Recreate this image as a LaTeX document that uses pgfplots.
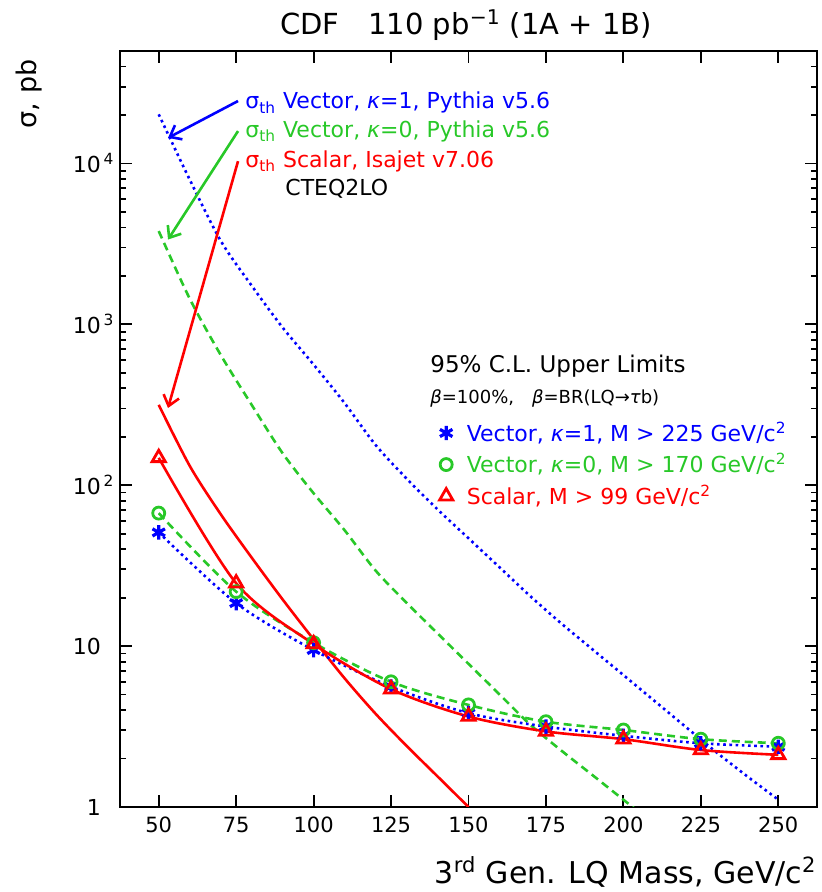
\documentclass[border=0pt]{standalone}
\usepackage{fontspec}
\setmainfont{DejaVu Sans}
\usepackage{pgfplots}
\usepackage{pgfplotstable}
\pgfplotsset{compat=1.18}
\usetikzlibrary{arrows.meta}

\definecolor{cdfblue}{RGB}{0,0,255}
\definecolor{cdfgreen}{RGB}{40,200,40}
\definecolor{cdfred}{RGB}{255,0,0}

% 95% C.L. upper limits on sigma x BR (pb)
\pgfplotstableread{
m    vecone  veczero  scalar
50   50.9    67.1     148
75   18.5    21.8     24.6
100  9.45    10.5     10.3
125  5.6     6.0      5.4
150  3.83    4.31     3.65
175  3.16    3.39     2.95
200  2.77    3.01     2.64
225  2.49    2.64     2.26
250  2.37    2.49     2.11
}\limits

% theoretical cross sections (CTEQ2LO)
\pgfplotstableread{
m    xs
50   20200
60   7940
70   3310
80   1740
90   955
100  562
110  324
120  178
130  110
140  70.8
150  46.8
160  30.9
170  20.4
180  13.8
190  9.55
200  6.61
210  4.57
220  3.16
230  2.19
240  1.55
250  1.11
}\thvecone

\pgfplotstableread{
m    xs
50   3800
60   1445
70   646
80   316
90   158
100  89.1
110  52.5
120  29.5
130  18.6
140  12.0
150  7.76
160  5.01
170  3.24
180  2.24
190  1.58
200  1.11
210  0.78
}\thveczero

\pgfplotstableread{
m    xs
50   316
60   132
70   66.1
80   35.5
90   19.5
100  11.0
110  6.31
120  3.80
130  2.40
140  1.55
150  1.00
}\thscalar

\begin{document}
\begin{tikzpicture}
\path[use as bounding box] (-60pt,-42.5pt) rectangle (351pt,403.5pt);
\begin{axis}[
  at={(0,0)}, anchor=south west,
  scale only axis, width=348.5pt, height=378pt,
  xmin=37.5, xmax=262.5, ymin=1, ymax=50000, ymode=log,
  axis line style={line width=1pt},
  every tick/.append style={black, line width=0.9pt},
  tick align=inside,
  major tick length=6pt, minor tick length=3pt,
  xtick={50,75,...,250}, minor xtick={},
  ytick={1,10,100,1000,10000},
  minor ytick={2,3,...,9,20,30,...,90,200,300,...,900,2000,3000,...,9000,20000,30000,40000},
  yticklabels={1,10,10\rlap{\textsuperscript{\,2}},10\rlap{\textsuperscript{\,3}},10\rlap{\textsuperscript{\,4}}},
  /pgf/number format/assume math mode=true,
  xticklabel style={font=\fontsize{10.5}{12}\selectfont, yshift=-1.5pt},
  yticklabel style={font=\fontsize{11}{13}\selectfont, xshift=-6pt},
  legend cell align=left,
  legend image code/.code={\draw[#1] plot coordinates {(0pt,0pt)};},
  legend style={at={(axis description cs:0.458,0.514)}, anchor=north west,
    draw=none, fill=none, inner sep=0pt, row sep=1.6pt,
    font=\fontsize{11}{13}\selectfont,
    nodes={inner sep=1.5pt},
    /tikz/every odd column/.append style={column sep=5.5pt}},
]
% theory curves
\addplot[forget plot, cdfblue, line width=1.3pt, dash pattern=on 1.3pt off 1.8pt, smooth] table[x=m, y=xs] {\thvecone};
\addplot[forget plot, cdfgreen, line width=1.3pt, dash pattern=on 4pt off 2.5pt, smooth] table[x=m, y=xs] {\thveczero};
\addplot[forget plot, cdfred, line width=1.3pt, smooth] table[x=m, y=xs] {\thscalar};
% limit curves
\addplot[forget plot, cdfblue, line width=1.3pt, dash pattern=on 1.3pt off 1.8pt, smooth] table[x=m, y=vecone] {\limits};
\addplot[forget plot, cdfgreen, line width=1.3pt, dash pattern=on 4pt off 2.5pt, smooth] table[x=m, y=veczero] {\limits};
\addplot[forget plot, cdfred, line width=1.3pt, smooth] table[x=m, y=scalar] {\limits};
% limit points
\addplot[only marks, cdfblue, mark=asterisk, mark size=3.6pt, line width=1.6pt] table[x=m, y=vecone] {\limits};
\addlegendentry{\textcolor{cdfblue}{Vector, \textit{κ}=1, M > 225 GeV/c\textsuperscript{2}}}
\addplot[only marks, cdfgreen, mark=o, mark size=3pt, line width=1.4pt] table[x=m, y=veczero] {\limits};
\addlegendentry{\textcolor{cdfgreen}{Vector, \textit{κ}=0, M > 170 GeV/c\textsuperscript{2}}}
\addplot[only marks, cdfred, mark=triangle, mark size=3.8pt, line width=1.4pt] table[x=m, y=scalar] {\limits};
\addlegendentry{\textcolor{cdfred}{Scalar, M > 99 GeV/c\textsuperscript{2}}}
% pointers from the labels to the theory curves
\draw[cdfblue, line width=1.3pt, -{Straight Barb[length=5pt,width=8pt]}] (axis cs:75.6,24430) -- (axis cs:53,14420);
\draw[cdfgreen, line width=1.3pt, -{Straight Barb[length=5pt,width=8pt]}] (axis cs:75.6,15890) -- (axis cs:53,3365);
\draw[cdfred, line width=1.3pt, -{Straight Barb[length=5pt,width=8pt]}] (axis cs:75.6,10330) -- (axis cs:53,302);
\end{axis}

% title and axis labels
\node[anchor=base, font=\fontsize{14.5}{17}\selectfont] at (173pt,386pt) {CDF\quad 110 pb\textsuperscript{−1} (1A + 1B)};
\node[rotate=90, font=\fontsize{13.5}{16}\selectfont] at (-45.5pt,356.5pt) {σ, pb};
\node[anchor=base east, font=\fontsize{15}{18}\selectfont, inner sep=0pt] at (348.5pt,-38pt) {3\textsuperscript{rd} Gen. LQ Mass, GeV/c\textsuperscript{2}};

% theory labels
\begin{scope}[font=\fontsize{11}{13}\selectfont, inner sep=0pt]
\node[anchor=base west, text=cdfblue]  at (62.5pt,349pt)   {σ\textsubscript{th} Vector, \textit{κ}=1, Pythia v5.6};
\node[anchor=base west, text=cdfgreen] at (62.5pt,334.8pt) {σ\textsubscript{th} Vector, \textit{κ}=0, Pythia v5.6};
\node[anchor=base west, text=cdfred]   at (62.5pt,319.8pt) {σ\textsubscript{th} Scalar, Isajet v7.06};
\node[anchor=base west]                at (82.5pt,305.5pt) {CTEQ2LO};
\end{scope}

% limits header
\node[anchor=base west, inner sep=0pt, font=\fontsize{11.5}{13}\selectfont] at (155pt,217.2pt) {95\% C.L. Upper Limits};
\node[anchor=base west, inner sep=0pt, font=\fontsize{9}{10}\selectfont] at (155pt,201.8pt) {\textit{β}=100\%,\quad \textit{β}=BR(LQ→\textit{τ}b)};
\end{tikzpicture}
\end{document}
